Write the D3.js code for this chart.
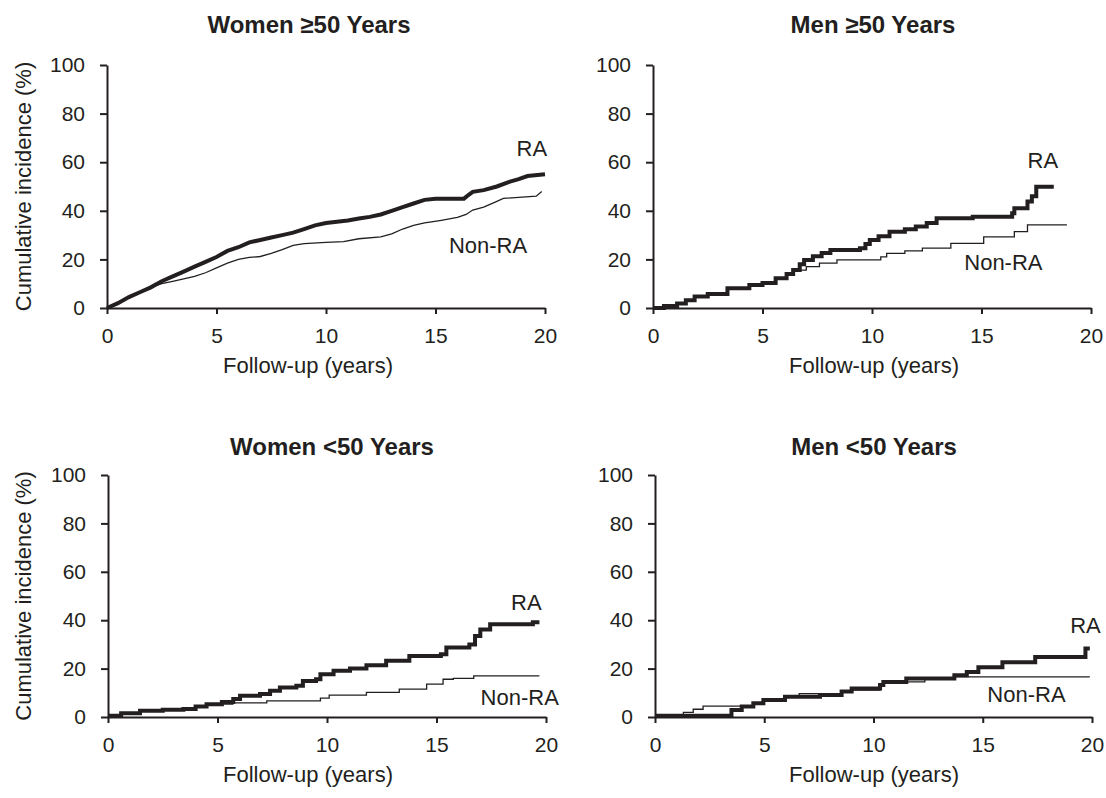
<!DOCTYPE html>
<html>
<head>
<meta charset="utf-8">
<script src="https://cdn.jsdelivr.net/npm/d3@7"></script>
<style>
body { margin: 0; background: #fff; }
text { font-family: "Liberation Sans", Arial, sans-serif; fill: #231f20; }
</style>
</head>
<body>
<script>
// tick labels
var xTicks = [0, 5, 10, 15, 20];
var yTicks = [0, 20, 40, 60, 80, 100];

var panelTitles = ["Women \u226550 Years", "Men \u226550 Years", "Women <50 Years", "Men <50 Years"];
var seriesNames = ["RA", "Non-RA"];

// [years, cumulative incidence %]
var womenOldRA = [[0,0],[0.5,2],[1,4.5],[1.5,6.5],[2,8.5],[2.5,11],[3,13],[3.5,15],[4,17],[4.5,19],[5,21],[5.5,23.5],[6,25],[6.5,27],[7,28],[7.5,29],[8,30],[8.5,31],[9,32.5],[9.5,34],[10,35],[10.5,35.5],[11,36],[11.5,36.8],[12,37.5],[12.5,38.5],[13,40],[13.5,41.5],[14,43],[14.5,44.5],[15,45],[16.3,45],[16.5,46.5],[16.7,47.8],[17.2,48.5],[17.8,50],[18.4,52],[18.8,53],[19.2,54.3],[20,55]];
var womenOldNon = [[0,0],[0.5,2],[1,4.5],[1.5,6.5],[2,8.5],[2.5,10],[3,11],[3.5,12],[4,13],[4.5,14.5],[5,16.5],[5.5,18.5],[6,20],[6.5,20.8],[7,21.2],[7.5,22.5],[8,24],[8.5,25.8],[9,26.5],[10,27],[10.8,27.3],[11.5,28.5],[12.5,29.3],[13,30.5],[13.5,32.5],[14,34],[14.5,35],[15.2,36],[16,37.3],[16.4,38.5],[16.7,40.3],[17.2,41.5],[17.7,43.5],[18.1,45.1],[19.6,46],[19.85,47.9]];

var menOldRA = [[0,0],[0.5,0.8],[1.1,1.9],[1.5,3.2],[1.9,4.7],[2.5,5.8],[3.4,8.1],[4.4,9.5],[5,10.3],[5.6,12.2],[6.1,14],[6.4,15.6],[6.7,18],[6.9,19.8],[7.3,21.3],[7.7,22.6],[8.1,23.9],[9.45,24.6],[9.7,26.3],[9.9,28],[10.3,29.5],[10.8,31.4],[11.5,32.4],[12,33.5],[12.5,35],[12.95,36.9],[14.6,37.6],[16.4,39],[16.5,41],[17.1,43.8],[17.3,46],[17.5,49.9],[18.3,49.9]];
var menOldNon = [[0,0],[0.5,1.2],[1.1,2.2],[1.5,3.2],[1.9,4.7],[2.5,5.8],[3.4,8.1],[4.4,9.5],[5,10.3],[5.6,12.2],[6.1,14],[6.4,15.6],[7,17],[7.6,18.5],[8.4,19.8],[10.4,21],[10.67,22.5],[11.5,23.5],[12.3,24.6],[13.6,26.6],[15.1,29.3],[16.5,31.4],[17.1,34.2],[18.9,34.2]];

var womenYoungRA = [[0,0.5],[0.6,1.5],[1.46,2.6],[2.5,3],[3.44,3.3],[4,4.3],[4.5,5.3],[5.2,6.2],[5.72,7.4],[6.03,8.8],[6.94,9.5],[7.4,10.8],[7.85,12.2],[8.6,12.9],[8.9,14.9],[9.5,15.6],[9.7,17.7],[10.3,19.1],[11.05,20],[11.8,21.4],[12.7,23.2],[13.76,25.2],[15.2,25.9],[15.45,28.7],[16.5,30],[16.76,33.5],[17,36.2],[17.45,38.3],[19.4,39.2],[19.7,39.2]];
var womenYoungNon = [[0,0.5],[0.6,1.5],[1.46,2.6],[2.5,3],[3.44,3.3],[4,4.3],[4.5,5.3],[5.7,5.8],[7.25,6.7],[9.7,7.8],[10.1,9],[11.8,10.2],[13.3,11.5],[14.55,13.6],[15.3,15.6],[15.77,16],[16.7,17],[19.7,17]];

var menYoungRA = [[0,0.5],[3.5,2.9],[3.97,4.3],[4.5,5.7],[4.96,7],[5.95,8.4],[7.55,9.1],[8.54,10.5],[9,11.8],[10.3,13.2],[10.45,14.5],[11.5,15.9],[13.7,17.3],[14.27,18.6],[14.8,20.6],[15.9,22.6],[17.4,24.8],[19.7,28.3],[19.9,28.3]];
var menYoungNon = [[0,0.5],[1.3,1.9],[1.75,3.2],[2.2,4.5],[3.5,4.5],[4.5,5.7],[4.96,7],[5.95,8.4],[6.6,9.7],[8.54,10.5],[9,11.1],[10.3,13.2],[10.45,14.5],[12.35,15.9],[13.7,16.6],[19.9,16.6]];

// where the RA / Non-RA labels sit, in data units
var raLabelAt = [[19.4,65.8],[17.8,60.9],[19.1,47.3],[19.7,37.9]];
var nonLabelAt = [[17.4,25.9],[16.0,18.9],[18.8,8.2],[17.0,9.1]];

var seriesRA = [womenOldRA, menOldRA, womenYoungRA, menYoungRA];
var seriesNon = [womenOldNon, menOldNon, womenYoungNon, menYoungNon];

var W = 1106, H = 798;
var ink = "#231f20";

// panel boxes: left, right, top (100%), bottom (0%), title centre x, x-title centre x
var boxes = [
  {l: 107, r: 545, t: 65, b: 308, tx: 309, ax: 308, ty: 24},
  {l: 653, r: 1091, t: 65, b: 308, tx: 873, ax: 874, ty: 24},
  {l: 108, r: 546, t: 475, b: 717, tx: 332, ax: 308, ty: 446},
  {l: 655, r: 1092, t: 475, b: 717, tx: 874, ax: 874, ty: 446}
];

var svg = d3.select("body").append("svg")
  .attr("width", W)
  .attr("height", H);

boxes.forEach(function(bx, i) {
  var x = d3.scaleLinear().domain([0, 20]).range([bx.l, bx.r]);
  var y = d3.scaleLinear().domain([0, 100]).range([bx.b, bx.t]);
  var g = svg.append("g");

  var yAxis = g.append("g")
    .attr("transform", "translate(" + bx.l + ",0)")
    .call(d3.axisLeft(y).tickValues(yTicks).tickSize(7).tickSizeOuter(0).tickPadding(15));
  var xAxis = g.append("g")
    .attr("transform", "translate(0," + bx.b + ")")
    .call(d3.axisBottom(x).tickValues(xTicks).tickSize(6).tickSizeOuter(0).tickPadding(14));

  [yAxis, xAxis].forEach(function(a) {
    a.selectAll("path, line").attr("stroke", ink).attr("stroke-width", 2);
    a.selectAll("text").attr("font-size", 21).attr("fill", ink)
      .attr("font-family", "'Liberation Sans', Arial, sans-serif");
  });

  var line = d3.line()
    .x(function(d) { return x(d[0]); })
    .y(function(d) { return y(d[1]); })
    .curve(i === 0 ? d3.curveLinear : d3.curveStepAfter);

  g.append("path")
    .attr("d", line(seriesNon[i]))
    .attr("fill", "none")
    .attr("stroke", ink)
    .attr("stroke-width", 1.3);

  g.append("path")
    .attr("d", line(seriesRA[i]))
    .attr("fill", "none")
    .attr("stroke", ink)
    .attr("stroke-width", 4);

  g.append("text")
    .attr("x", x(raLabelAt[i][0]))
    .attr("y", y(raLabelAt[i][1]))
    .attr("text-anchor", "middle")
    .attr("dominant-baseline", "central")
    .attr("font-size", 22)
    .text(seriesNames[0]);

  g.append("text")
    .attr("x", x(nonLabelAt[i][0]))
    .attr("y", y(nonLabelAt[i][1]))
    .attr("text-anchor", "middle")
    .attr("dominant-baseline", "central")
    .attr("font-size", 22)
    .text(seriesNames[1]);

  // titles
  g.append("text")
    .attr("x", bx.tx)
    .attr("y", bx.ty)
    .attr("text-anchor", "middle")
    .attr("dominant-baseline", "central")
    .attr("font-size", 24)
    .attr("font-weight", "bold")
    .text(panelTitles[i]);

  g.append("text")
    .attr("x", bx.ax)
    .attr("y", bx.b + 57)
    .attr("text-anchor", "middle")
    .attr("dominant-baseline", "central")
    .attr("font-size", 22)
    .text("Follow-up (years)");

  if (i % 2 === 0) {
    g.append("text")
      .attr("transform", "translate(23," + ((bx.t + bx.b) / 2) + ") rotate(-90)")
      .attr("text-anchor", "middle")
      .attr("dominant-baseline", "central")
      .attr("font-size", 22)
      .text("Cumulative incidence (%)");
  }
});
</script>
</body>
</html>
